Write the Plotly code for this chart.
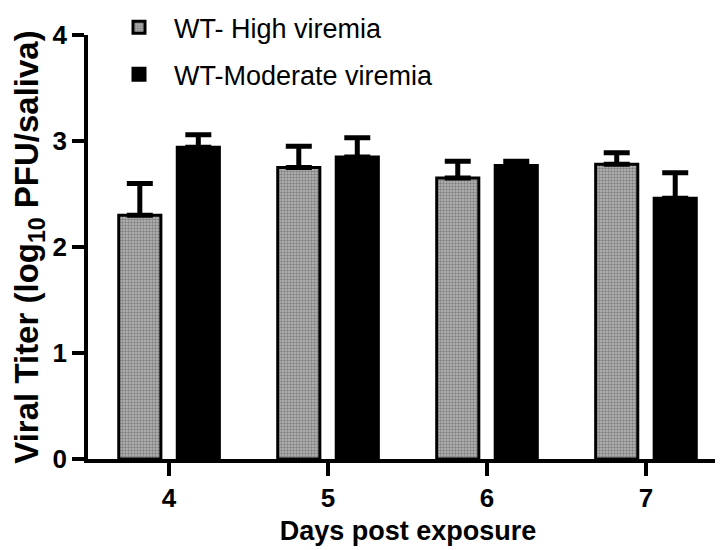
import plotly.graph_objects as go

days = ["4", "5", "6", "7"]
high_vals = [2.30, 2.75, 2.65, 2.78]
high_err = [0.30, 0.20, 0.16, 0.11]
mod_vals = [2.94, 2.85, 2.77, 2.46]
mod_err = [0.12, 0.18, 0.04, 0.24]
y_ticks = [0, 1, 2, 3, 4]

FONT = "Liberation Sans, Arial, Helvetica, sans-serif"

fig = go.Figure()
fig.add_trace(go.Bar(
    x=days, y=high_vals, name="WT- High viremia", legendgroup="a",
    marker=dict(color="#a0a0a0", line=dict(color="black", width=3),
                pattern=dict(shape=".", fgcolor="#4a4a4a", bgcolor="#b8b8b8", size=3, solidity=0.5)),
    error_y=dict(type="data", array=high_err, arrayminus=[0]*4, symmetric=False,
                 color="black", thickness=5, width=13),
))
fig.add_trace(go.Bar(
    x=days, y=mod_vals, name="WT-Moderate viremia", legendgroup="b",
    marker=dict(color="black", line=dict(color="black", width=3)),
    error_y=dict(type="data", array=mod_err, arrayminus=[0]*4, symmetric=False,
                 color="black", thickness=5, width=13),
))

fig.update_layout(
    width=723, height=550,
    margin=dict(l=80, r=3, t=27, b=99, autoexpand=False),
    paper_bgcolor="white", plot_bgcolor="white",
    barmode="group", bargap=0.264, bargroupgap=0.28,
    font=dict(family=FONT, color="black"),
    showlegend=True,
    legend=dict(x=0.025, y=1.075, xanchor="left", yanchor="top",
                font=dict(size=27, family=FONT, color="black"),
                itemwidth=60, tracegroupgap=9, bgcolor="rgba(0,0,0,0)"),
    xaxis=dict(
        range=[-0.51, 3.516], showline=True, linecolor="black", linewidth=3.5,
        ticks="outside", ticklen=13, tickwidth=3.5, tickcolor="black",
        tickfont=dict(size=26, family=FONT, weight="bold"),
        title=dict(text="<b>Days post exposure</b>", font=dict(size=27, family=FONT), standoff=10),
        showgrid=False, zeroline=False, automargin=False,
    ),
    yaxis=dict(
        range=[0, 4], tickvals=y_ticks, showline=True, linecolor="black", linewidth=3.5,
        ticks="outside", ticklen=12, tickwidth=3.5, tickcolor="black",
        tickfont=dict(size=26, family=FONT, weight="bold"),
        title=dict(text="<b>Viral Titer (log<sub>10</sub> PFU/saliva)</b>", font=dict(size=33, family=FONT), standoff=12),
        showgrid=False, zeroline=False, automargin=False,
    ),
)

fig.write_html("out.html")
